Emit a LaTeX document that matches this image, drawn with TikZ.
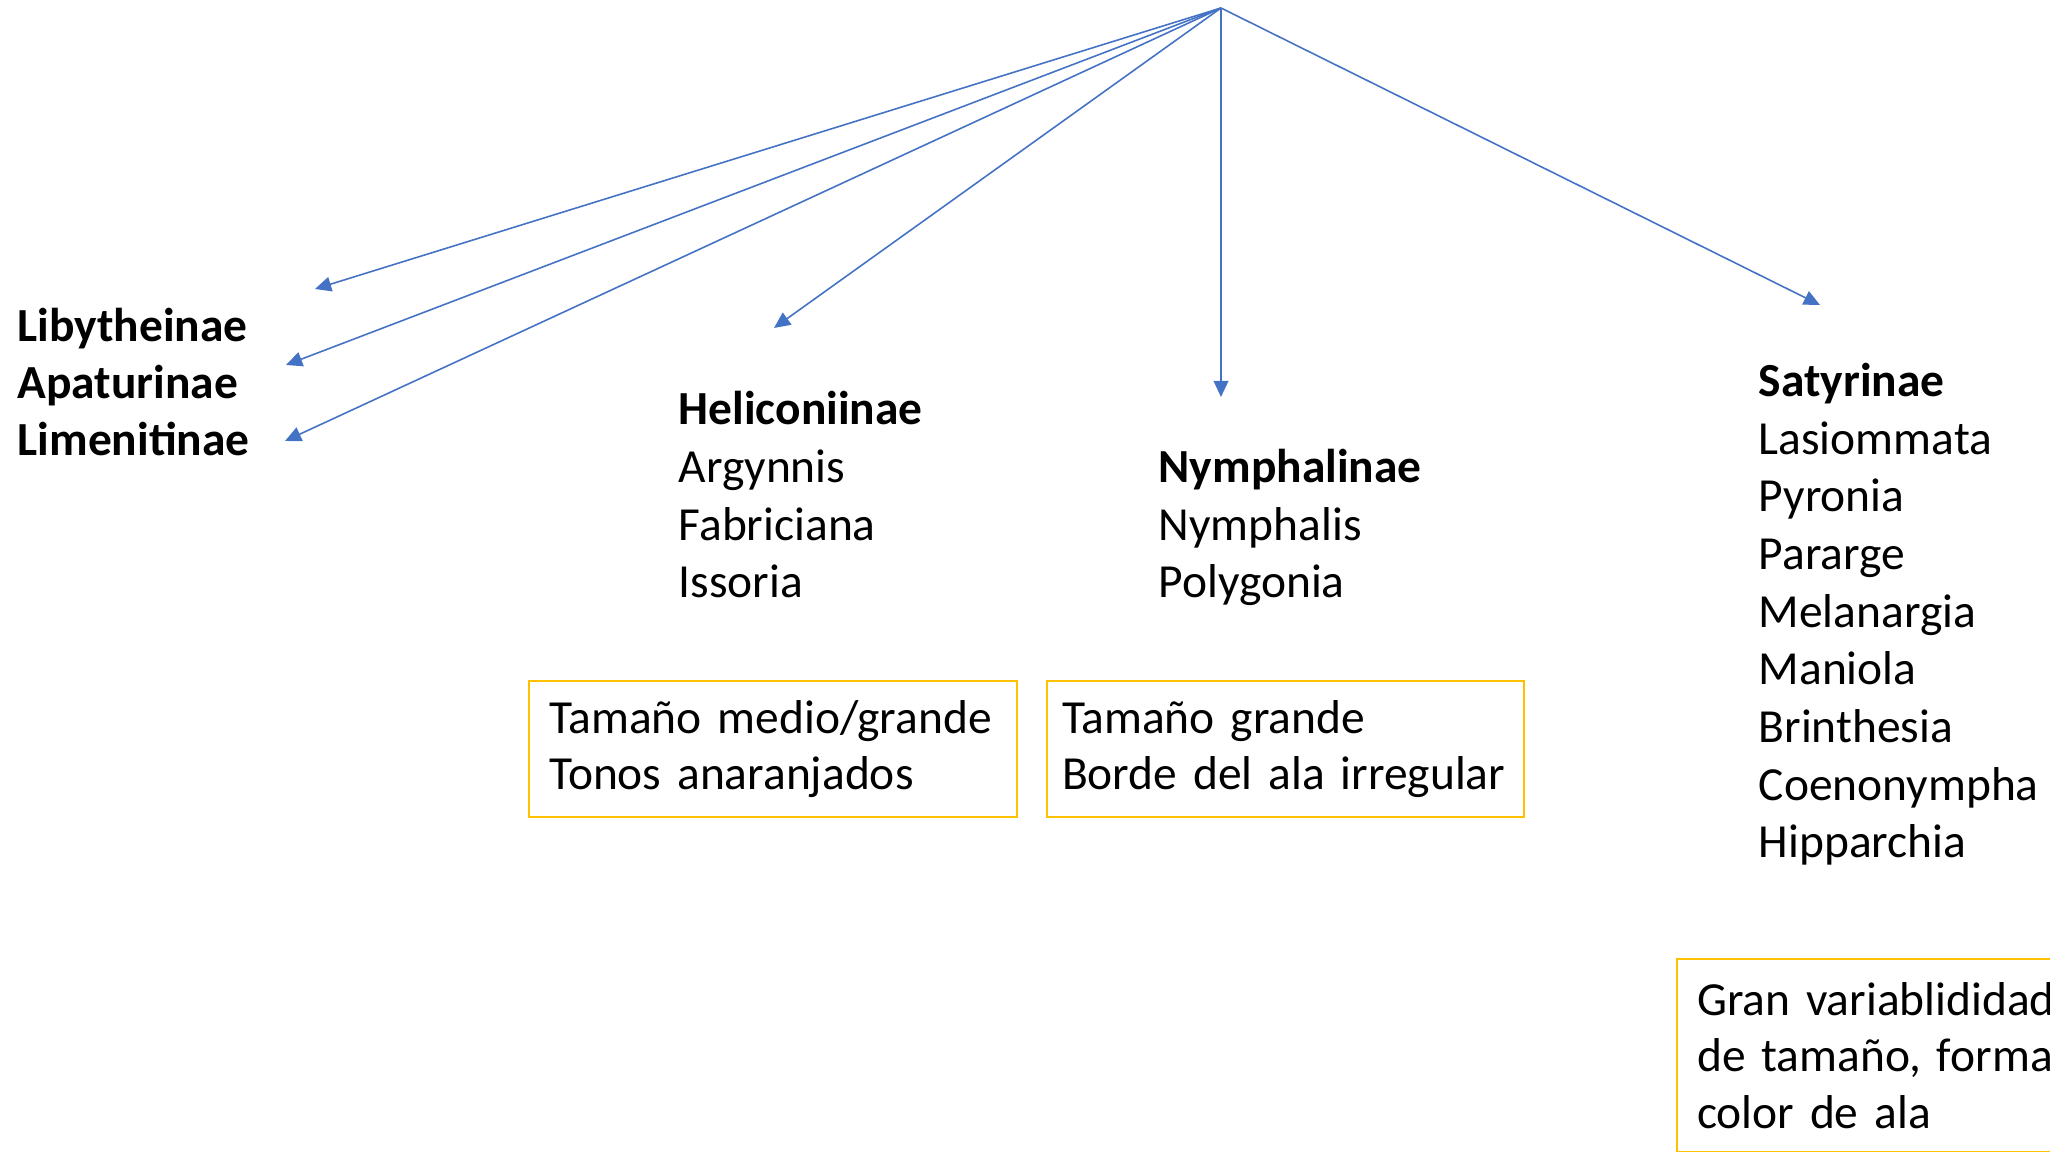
\documentclass[tikz,border=0pt]{standalone}
\usepackage{fontspec}
\setmainfont{Carlito}
\usetikzlibrary{positioning,arrows.meta}
\definecolor{linkblue}{RGB}{68,114,196}
\definecolor{notegold}{RGB}{255,192,0}
\tikzset{
    branch/.style={-{Triangle[length=4.6pt,width=4.2pt]}, line width=0.45pt, linkblue},
    taxon/.style={anchor=base west, align=left, inner sep=0pt, font=\fontsize{13.5}{16.4}\selectfont},
    note box/.style={draw=notegold, line width=0.6pt, anchor=north west, align=left,
        inner xsep=0.2cm, inner ysep=0pt, font=\fontsize{13.5}{16.1}\selectfont}
}
\begin{document}
\begin{tikzpicture}[x=0.01cm, y=-0.01cm]
    \useasboundingbox (0,0) rectangle (2050,1152);
    \clip (0,0) rectangle (2050,1152);

    % Common origin of all branches
    \coordinate (top) at (1221,8);

    % Arrow ends
    \coordinate (libyend) at (315,289);
    \coordinate (apatend) at (286,365);
    \coordinate (limeend) at (285,441);
    \coordinate (heliend) at (774,328);
    \coordinate (nymphend) at (1221,397);
    \coordinate (satyend) at (1820,305);

    % Subfamilies and genera (placed at the baseline of their last line)
    \node[taxon, font=\fontsize{13.5}{16.3}\selectfont\bfseries] (left) at (17,456)
        {Libytheinae\\Apaturinae\\Limenitinae};
    \node[taxon] (helic) at (678,598)
        {\textbf{Heliconiinae}\\Argynnis\\Fabriciana\\Issoria};
    \node[taxon] (nymph) at (1158,598)
        {\textbf{Nymphalinae}\\Nymphalis\\Polygonia};
    \node[taxon] (satyr) at (1758,858)
        {\textbf{Satyrinae}\\Lasiommata\\Pyronia\\Pararge\\Melanargia\\Maniola\\Brinthesia\\Coenonympha\\Hipparchia};

    % Branches
    \draw[branch] (top) -- (libyend);
    \draw[branch] (top) -- (apatend);
    \draw[branch] (top) -- (limeend);
    \draw[branch] (top) -- (heliend);
    \draw[branch] (top) -- (nymphend);
    \draw[branch] (top) -- (satyend);

    % Notes
    \node[note box, text width=4.48cm, minimum height=1.36cm] (helinote) at (528,680)
        {Tamaño medio/grande\\Tonos anaranjados};
    \node[note box, inner xsep=0.15cm, text width=4.47cm, minimum height=1.36cm] (nymphnote) at (1046,680)
        {Tamaño grande\\Borde del ala irregular};
    \node[note box, text width=4.6cm, minimum height=1.93cm] (satyrnote) at (1676,958)
        {Gran variablididad\\de tamaño, forma\\color de ala};
\end{tikzpicture}
\end{document}
